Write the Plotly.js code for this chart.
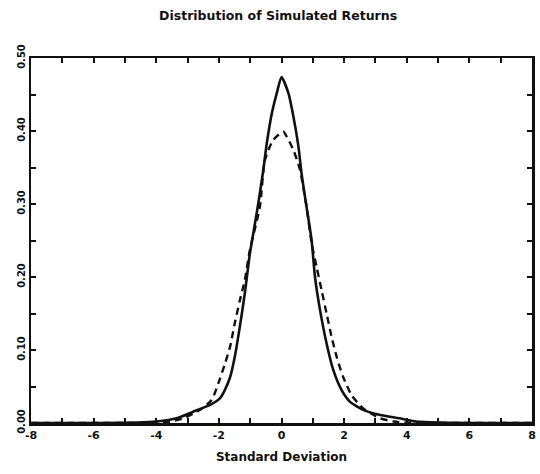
<!DOCTYPE html>
<html>
<head>
<meta charset="utf-8">
<script src="https://cdn.plot.ly/plotly-3.0.1.min.js"></script>
<style>
html,body{margin:0;padding:0;background:#fff;}
#chart{width:540px;height:474px;}
</style>
</head>
<body>
<div id="chart"></div>
<script>
// Simulated (fat-tailed) distribution - solid line
var simX = [-8, -6, -4.6, -3.99, -3.35, -2.82, -2.28, -1.96, -1.80, -1.64, -1.49, -1.33, -1.17, -1.01, -0.90, -0.74, -0.58, -0.47, -0.31, -0.15, 0.0, 0.22, 0.38, 0.54, 0.64, 0.80, 0.96, 1.07, 1.23, 1.44, 1.65, 1.92, 2.19, 2.61, 3.15, 3.78, 4.3, 5, 6.5, 8];
var simY = [0, 0, 0.0005, 0.002, 0.0064, 0.0155, 0.0247, 0.034, 0.046, 0.063, 0.091, 0.132, 0.178, 0.232, 0.260, 0.301, 0.347, 0.383, 0.424, 0.452, 0.474, 0.452, 0.420, 0.379, 0.342, 0.296, 0.251, 0.200, 0.155, 0.109, 0.073, 0.045, 0.029, 0.018, 0.011, 0.0064, 0.002, 0.0005, 0, 0];

// Standard normal reference - dashed line
var normX = [-8, -5, -4.0, -3.56, -3.14, -2.60, -2.23, -2.02, -1.80, -1.64, -1.49, -1.33, -1.17, -1.01, -0.69, -0.53, -0.26, 0.06, 0.17, 0.38, 0.59, 0.80, 0.96, 1.12, 1.28, 1.44, 1.60, 1.76, 1.97, 2.24, 2.61, 3.15, 3.6, 4.0, 5, 8];
var normY = [0, 0, 0.0005, 0.002, 0.0064, 0.018, 0.0315, 0.054, 0.082, 0.105, 0.137, 0.168, 0.196, 0.237, 0.296, 0.360, 0.388, 0.399, 0.392, 0.374, 0.347, 0.296, 0.247, 0.214, 0.182, 0.150, 0.118, 0.091, 0.063, 0.038, 0.020, 0.0064, 0.002, 0.0005, 0, 0];

var xTickVals = [-8,-7,-6,-5,-4,-3,-2,-1,0,1,2,3,4,5,6,7,8];
var xTickText = ['-8','','-6','','-4','','-2','','0','','2','','4','','6','','8'];
var yTickVals = [0,0.05,0.1,0.15,0.2,0.25,0.3,0.35,0.4,0.45,0.5];
var yTickText = ['0.00','','0.10','','0.20','','0.30','','0.40','','0.50'];

var font = 'DejaVu Sans, sans-serif';

var traces = [
  {x: simX, y: simY, mode: 'lines', line: {color: '#111', width: 2.6, shape: 'spline', smoothing: 0.6}, hoverinfo: 'skip'},
  {x: normX, y: normY, mode: 'lines', line: {color: '#111', width: 2.4, dash: '7px,5px', shape: 'spline', smoothing: 0.6}, hoverinfo: 'skip'}
];

var layout = {
  width: 540, height: 474,
  margin: {l: 31, r: 8, t: 58, b: 51},
  paper_bgcolor: '#fff', plot_bgcolor: '#fff',
  showlegend: false,
  title: {text: '<b>Distribution of Simulated Returns</b>', x: 0.515, xanchor: 'center', y: 0.968, yanchor: 'middle',
          font: {family: font, size: 12.5, color: '#111'}},
  xaxis: {
    range: [-8, 8], tickvals: xTickVals, ticktext: xTickText,
    ticks: 'inside', ticklen: 5, tickwidth: 2, tickcolor: '#111',
    showline: true, linewidth: 2.5, linecolor: '#111', mirror: 'ticks',
    showgrid: false, zeroline: false,
    tickfont: {family: font, size: 11, color: '#111', weight: 'bold'},
    title: {text: '<b>Standard Deviation</b>', font: {family: font, size: 12, color: '#111'}, standoff: 12}
  },
  yaxis: {
    range: [0, 0.5], tickvals: yTickVals, ticktext: yTickText, tickangle: -90,
    ticks: 'inside', ticklen: 5, tickwidth: 2, tickcolor: '#111',
    showline: true, linewidth: 2.5, linecolor: '#111', mirror: 'ticks',
    showgrid: false, zeroline: false,
    tickfont: {family: font, size: 10, color: '#111', weight: 'bold'}
  }
};

Plotly.newPlot('chart', traces, layout, {staticPlot: true, displayModeBar: false});
</script>
</body>
</html>
